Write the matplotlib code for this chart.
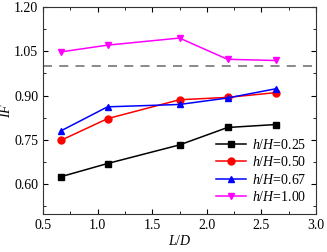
import matplotlib
matplotlib.use('Agg')
import matplotlib.pyplot as plt
from matplotlib.ticker import MultipleLocator, FormatStrFormatter

plt.rcParams['font.family'] = 'Liberation Serif'
plt.rcParams['mathtext.fontset'] = 'custom'
plt.rcParams['mathtext.rm'] = 'Liberation Serif'
plt.rcParams['mathtext.it'] = 'Liberation Serif:italic'

# L/D positions
ld = [0.66, 1.09, 1.75, 2.19, 2.63]

# IF values per h/H
if_025 = [0.625, 0.670, 0.733, 0.792, 0.802]
if_050 = [0.748, 0.822, 0.886, 0.894, 0.910]
if_067 = [0.780, 0.862, 0.870, 0.892, 0.923]
if_100 = [1.048, 1.071, 1.095, 1.023, 1.019]

labels = ['0.25', '0.50', '0.67', '1.00']
series = [if_025, if_050, if_067, if_100]
colors = ['black', 'red', 'blue', 'magenta']
markers = ['s', 'o', '^', 'v']

fig = plt.figure(figsize=(3.27, 2.52), dpi=100)
ax = fig.add_axes([0.132, 0.152, 0.834, 0.82])

# reference line IF = 1
ax.axhline(1.0, color='#808080', ls=(0, (5, 4)), lw=1.3)
for vals, lab, c, m in zip(series, labels, colors, markers):
    ax.plot(ld, vals, color=c, marker=m, ms=5, lw=1.1,
            label=r'$h$/$H$=' + lab)

ax.set_xlim(0.5, 3.0)
ax.set_ylim(0.5, 1.2)
ax.xaxis.set_major_locator(MultipleLocator(0.5))
ax.xaxis.set_minor_locator(MultipleLocator(0.25))
ax.yaxis.set_major_locator(MultipleLocator(0.15))
ax.yaxis.set_minor_locator(MultipleLocator(0.075))
ax.tick_params(which='both', direction='in', top=True, right=True, labelsize=10)
ax.tick_params(which='major', length=3.5)
ax.tick_params(which='minor', length=2)
ax.yaxis.set_major_formatter(FormatStrFormatter('%.2f'))
ax.xaxis.set_major_formatter(FormatStrFormatter('%.1f'))
for s in ax.spines.values():
    s.set_color('#333333')

ax.set_xlabel(r'$L$/$D$', fontsize=10, labelpad=2)
ax.set_ylabel(r'$IF$', fontsize=10, labelpad=1)

ax.legend(loc='lower right', frameon=False, fontsize=10, handlelength=2.2,
          labelspacing=0.25, borderaxespad=0.3, handletextpad=0.4)

fig.savefig('out.png', dpi=100)
